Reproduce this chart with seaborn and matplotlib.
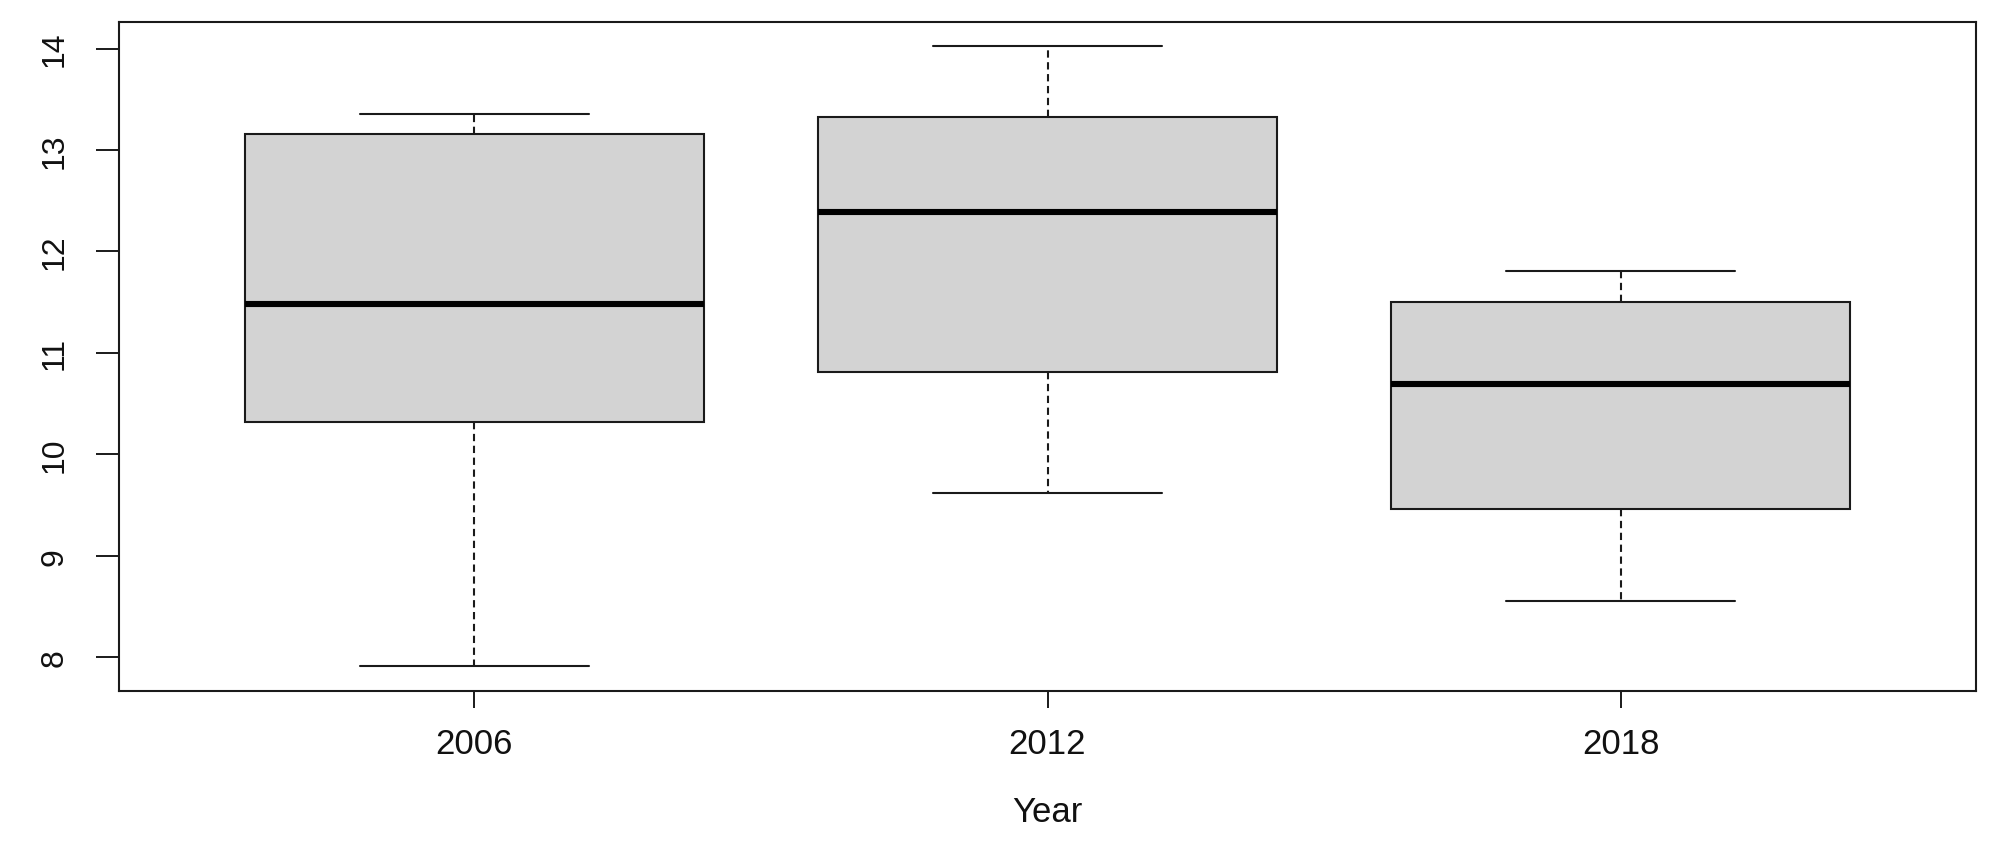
import numpy as np
import pandas as pd
import matplotlib
matplotlib.use("Agg")
import matplotlib.pyplot as plt
import seaborn as sns

# Five-number summaries (min, Q1, median, Q3, max)
years = ["2006", "2012", "2018"]
mins = [7.91, 9.62, 8.55]
q1s = [10.32, 10.81, 9.46]
medians = [11.48, 12.39, 10.69]
q3s = [13.16, 13.32, 11.50]
maxs = [13.35, 14.02, 11.81]
y_ticks = [8, 9, 10, 11, 12, 13, 14]

rows = []
for yr, a, b, c, d, e in zip(years, mins, q1s, medians, q3s, maxs):
    for v in (a, b, c, d, e):
        rows.append({"Year": yr, "value": v})
df = pd.DataFrame(rows)

sns.set_theme(style="white")
plt.rcParams["font.family"] = ["Liberation Sans", "DejaVu Sans"]

fig = plt.figure(figsize=(20, 8.45), dpi=100)
ax = fig.add_axes([119 / 2000, 1 - 692 / 845, (1976 - 119) / 2000, (692 - 22.7) / 845])

line_c = "#1a1a1a"
sns.boxplot(
    data=df, x="Year", y="value", order=years, ax=ax,
    whis=np.inf, width=0.8, color="#D3D3D3", linecolor=line_c, linewidth=1.5,
    saturation=1,
    boxprops=dict(facecolor="#D3D3D3", edgecolor=line_c, linewidth=1.5),
    medianprops=dict(color="black", linewidth=4.4, solid_capstyle="butt"),
    whiskerprops=dict(color=line_c, linewidth=1.5, linestyle=(0, (3.5, 2.2))),
    capprops=dict(color=line_c, linewidth=1.5),
    showfliers=False,
)

lo, hi = min(mins), max(maxs)
rng = hi - lo
ax.set_ylim(lo - 0.04 * rng, hi + 0.04 * rng)
ax.set_xlim(-0.62, 2.62)
ax.set_yticks(y_ticks)
ax.set_yticklabels([str(t) for t in y_ticks], rotation=90, va="center", fontsize=23, color="#111111")
ax.set_xticks(range(len(years)))
ax.set_xticklabels(years, fontsize=25, color="#111111")
ax.set_xlabel("Year", fontsize=25, color="#111111", labelpad=25)
ax.set_ylabel("")

for s in ax.spines.values():
    s.set_visible(True)
    s.set_color(line_c)
    s.set_linewidth(1.5)

ax.tick_params(axis="y", which="major", left=True, length=16.6, width=1.4, color=line_c, pad=19)
ax.tick_params(axis="x", which="major", bottom=True, length=12, width=1.4, color=line_c, pad=14)
ax.grid(False)

fig.savefig("out.png", dpi=100, facecolor="white")
